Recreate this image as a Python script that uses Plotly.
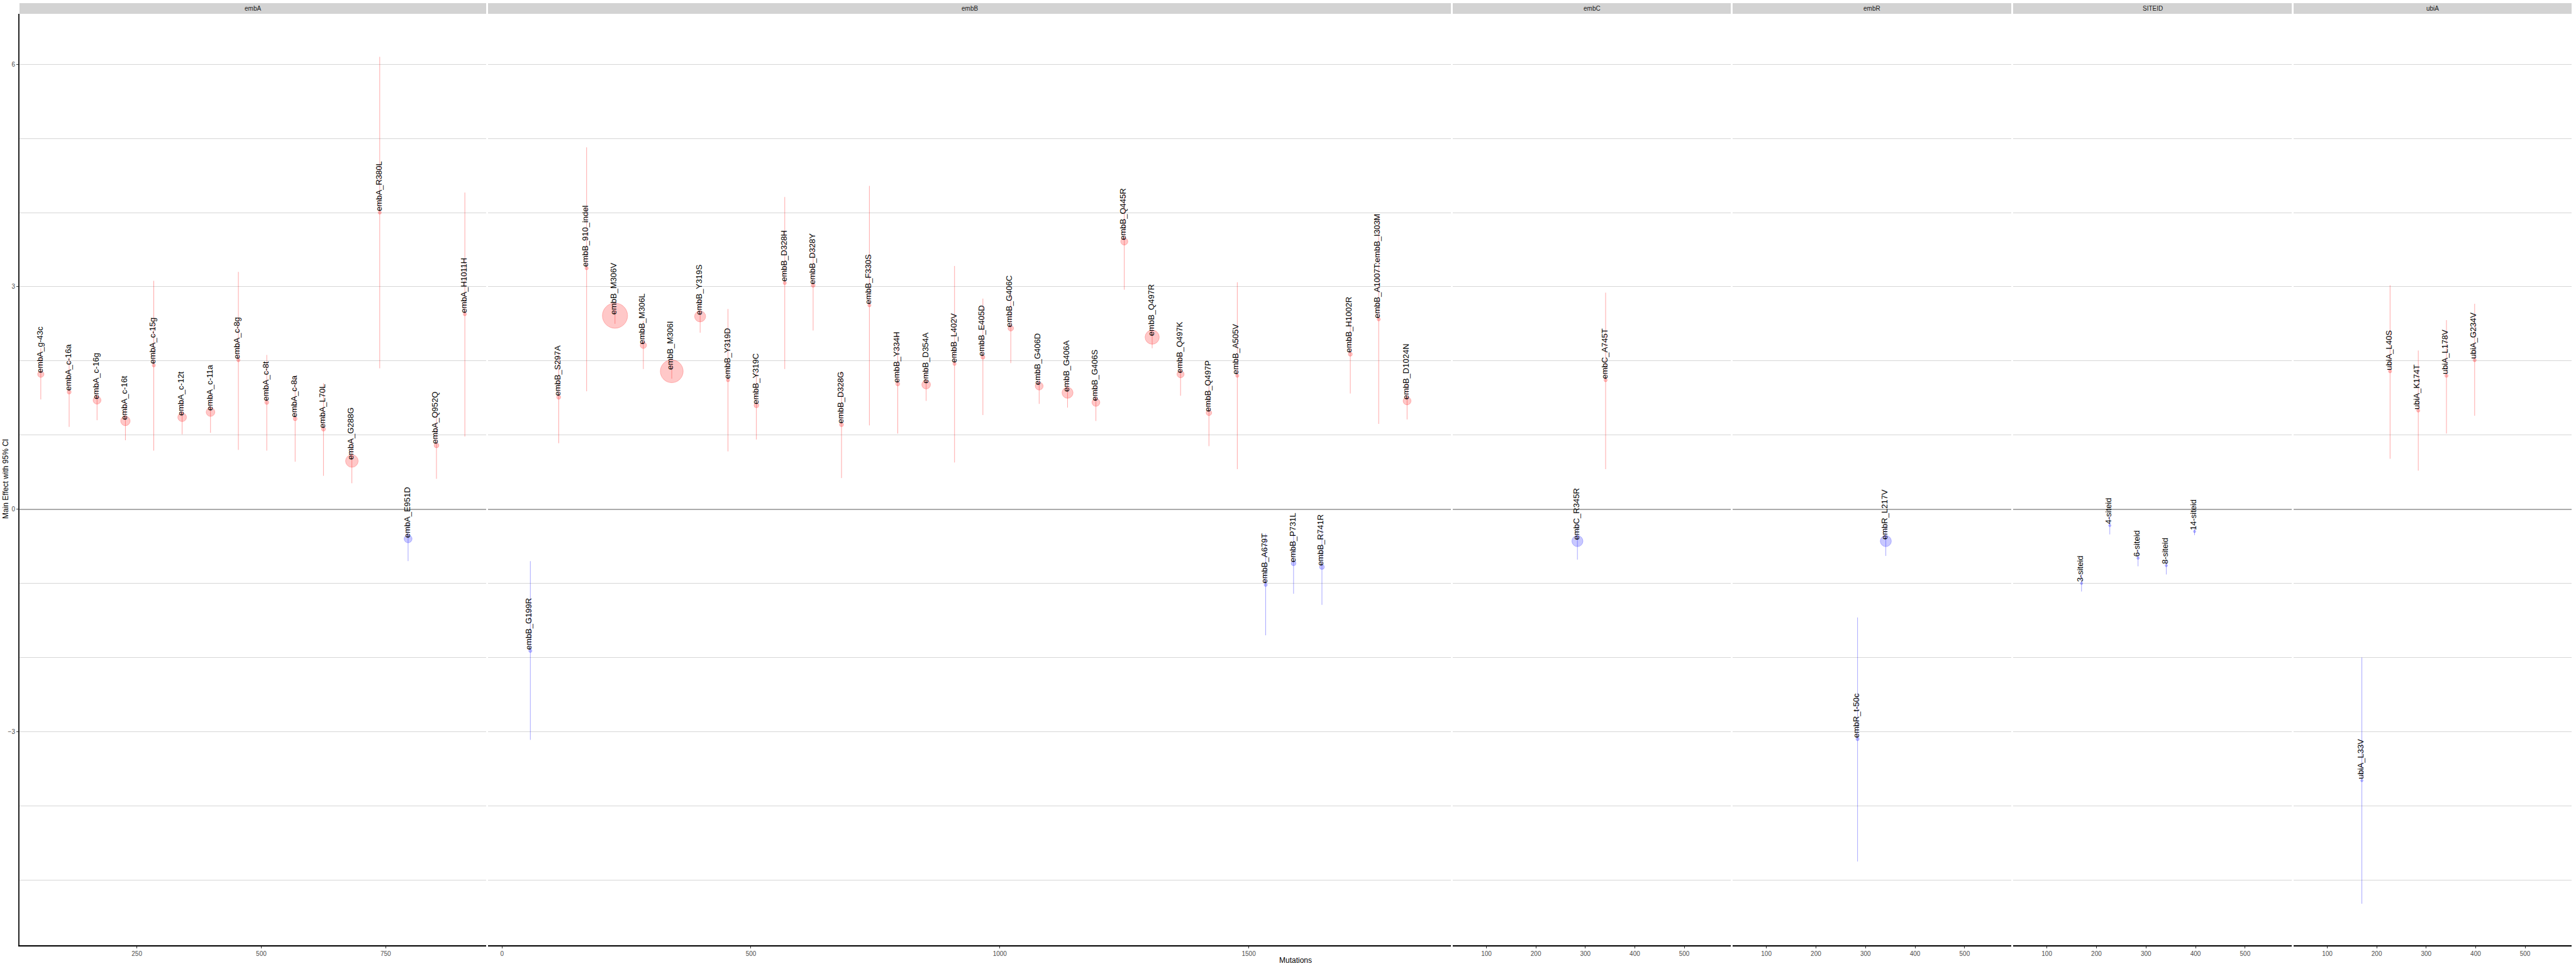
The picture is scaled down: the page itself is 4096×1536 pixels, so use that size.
import plotly.graph_objects as go

W, H = 4096, 1536

# ---------------- data ----------------
genes = ["embA", "embB", "embC", "embR", "SITEID", "ubiA"]

embA_lab = ["embA_g-43c", "embA_c-16a", "embA_c-16g", "embA_c-16t", "embA_c-15g", "embA_c-12t",
            "embA_c-11a", "embA_c-8g", "embA_c-8t", "embA_c-8a", "embA_L70L", "embA_G288G",
            "embA_R380L", "embA_E951D", "embA_Q952Q", "embA_H1011H"]
embA_x = [57, 114, 170, 227, 284, 341, 398, 454, 511, 568, 625, 682, 738, 795, 852, 909]
embA_y = [1.82, 1.58, 1.47, 1.19, 1.94, 1.24, 1.31, 2.01, 1.44, 1.22, 1.08, 0.65, 4.00, -0.40, 0.86, 2.63]
embA_lo = [1.48, 1.11, 1.20, 0.93, 0.79, 1.01, 1.03, 0.80, 0.79, 0.64, 0.45, 0.35, 1.90, -0.70, 0.41, 0.98]
embA_hi = [2.17, 2.05, 1.74, 1.44, 3.08, 1.47, 1.60, 3.20, 2.08, 1.80, 1.70, 0.95, 6.10, -0.18, 1.30, 4.27]
embA_n = [8, 5, 10, 12, 4, 11, 11, 4, 5, 5, 5, 16, 4, 10, 6, 4]

embB_lab = ["embB_G199R", "embB_S297A", "embB_910_indel", "embB_M306V", "embB_M306L", "embB_M306I",
            "embB_Y319S", "embB_Y319D", "embB_Y319C", "embB_D328H", "embB_D328Y", "embB_D328G",
            "embB_F330S", "embB_Y334H", "embB_D354A", "embB_L402V", "embB_E405D", "embB_G406C",
            "embB_G406D", "embB_G406A", "embB_G406S", "embB_Q445R", "embB_Q497R", "embB_Q497K",
            "embB_Q497P", "embB_A505V", "embB_A679T", "embB_P731L", "embB_R741R", "embB_H1002R",
            "embB_A1007T:embB_I303M", "embB_D1024N"]
embB_x = [57, 114, 170, 227, 284, 341, 398, 454, 511, 568, 625, 682, 738, 795, 852, 909,
          966, 1022, 1079, 1136, 1193, 1250, 1306, 1363, 1420, 1477, 1534, 1590, 1647, 1704, 1761, 1818]
embB_y = [-1.91, 1.51, 3.25, 2.61, 2.21, 1.86, 2.60, 1.74, 1.40, 3.05, 3.02, 1.14, 2.75, 1.69, 1.68, 1.96,
          2.05, 2.44, 1.66, 1.57, 1.44, 3.61, 2.32, 1.82, 1.30, 1.80, -1.02, -0.73, -0.78, 2.09, 2.56, 1.46]
embB_lo = [-3.11, 0.89, 1.59, 2.50, 1.89, 1.76, 2.38, 0.78, 0.94, 1.89, 2.41, 0.42, 1.13, 1.02, 1.46, 0.63,
           1.27, 1.97, 1.42, 1.37, 1.19, 2.96, 2.17, 1.53, 0.85, 0.54, -1.70, -1.14, -1.29, 1.56, 1.15, 1.21]
embB_hi = [-0.70, 2.12, 4.88, 2.72, 2.54, 1.97, 2.82, 2.70, 1.86, 4.21, 3.61, 1.86, 4.36, 2.36, 1.90, 3.28,
           2.84, 2.91, 1.90, 1.77, 1.69, 4.26, 2.47, 2.11, 1.74, 3.06, -0.33, -0.31, -0.26, 2.62, 3.97, 1.70]
embB_n = [4, 5, 4, 32, 8, 29, 14, 4, 6, 4, 5, 5, 4, 5, 11, 4,
          5, 7, 10, 14, 10, 9, 18, 9, 7, 4, 4, 6, 6, 5, 4, 10]

embC_lab = ["embC_R345R", "embC_A745T"]
embC_x = [284, 341]
embC_y = [-0.43, 1.74]
embC_lo = [-0.68, 0.54]
embC_hi = [-0.17, 2.92]
embC_n = [14, 4]

embR_lab = ["embR_t-50c", "embR_L217V"]
embR_x = [284, 341]
embR_y = [-3.10, -0.43]
embR_lo = [-4.75, -0.63]
embR_hi = [-1.46, -0.22]
embR_n = [4, 14]

site_lab = ["3-siteid", "4-siteid", "6-siteid", "8-siteid", "14-siteid"]
site_x = [170, 227, 284, 341, 398]
site_y = [-1.00, -0.22, -0.66, -0.76, -0.30]
site_lo = [-1.11, -0.34, -0.77, -0.88, -0.35]
site_hi = [-0.88, -0.09, -0.55, -0.69, -0.25]
site_n = [3, 3, 3, 3, 3]

ubiA_lab = ["ubiA_L33V", "ubiA_L40S", "ubiA_K174T", "ubiA_L178V", "ubiA_G234V"]
ubiA_x = [170, 227, 284, 341, 398]
ubiA_y = [-3.66, 1.86, 1.33, 1.80, 2.01]
ubiA_lo = [-5.32, 0.68, 0.52, 1.02, 1.26]
ubiA_hi = [-2.00, 3.02, 2.14, 2.55, 2.77]
ubiA_n = [3, 4, 4, 4, 4]

y_ticks = [-3, 0, 3, 6]
x_ticks = [[250, 500, 750], [0, 500, 1000, 1500], [100, 200, 300, 400, 500],
           [100, 200, 300, 400, 500], [100, 200, 300, 400, 500], [100, 200, 300, 400, 500]]

panels = [
    (embA_lab, embA_x, embA_y, embA_lo, embA_hi, embA_n),
    (embB_lab, embB_x, embB_y, embB_lo, embB_hi, embB_n),
    (embC_lab, embC_x, embC_y, embC_lo, embC_hi, embC_n),
    (embR_lab, embR_x, embR_y, embR_lo, embR_hi, embR_n),
    (site_lab, site_x, site_y, site_lo, site_hi, site_n),
    (ubiA_lab, ubiA_x, ubiA_y, ubiA_lo, ubiA_hi, ubiA_n),
]

# ---------------- layout geometry ----------------
px_dom = [(31, 773), (776, 2307), (2310, 2752), (2755, 3198), (3201, 3644), (3647, 4089)]
x_ranges = [(14.2, 951.8), (-28, 1906), (32, 594), (32, 594), (32, 594), (32, 594)]
top_px, bot_px = 22, 1503
strip_top = 5
y_dom = [(H - bot_px) / H, (H - top_px) / H]
y_range = [-5.88, 6.68]
SIZE_SCALE = 1.25

FONT = "Liberation Sans, Arial, sans-serif"
RED_F, RED_L, RED_E = "rgba(255,0,0,0.30)", "rgba(255,40,40,0.45)", "rgba(255,0,0,0.35)"
BLU_F, BLU_L, BLU_E = "rgba(0,0,255,0.30)", "rgba(40,40,255,0.45)", "rgba(0,0,255,0.35)"

fig = go.Figure()
annotations = []
shapes = []

for k, (lab, xs, ys, lo, hi, n) in enumerate(panels):
    sfx = "" if k == 0 else str(k + 1)
    xref, yref = "x" + sfx, "y" + sfx
    for sign in (1, -1):
        idx = [i for i in range(len(ys)) if (ys[i] >= 0) == (sign == 1)]
        if not idx:
            continue
        f, l, e = (RED_F, RED_L, RED_E) if sign == 1 else (BLU_F, BLU_L, BLU_E)
        fig.add_trace(go.Scatter(
            x=[xs[i] for i in idx], y=[ys[i] for i in idx],
            mode="markers", xaxis=xref, yaxis=yref, showlegend=False,
            marker=dict(size=[n[i] * SIZE_SCALE for i in idx], color=f, line=dict(color=l, width=1)),
            error_y=dict(type="data", symmetric=False,
                         array=[hi[i] - ys[i] for i in idx],
                         arrayminus=[ys[i] - lo[i] for i in idx],
                         color=e, thickness=1, width=0),
        ))
    for i in range(len(ys)):
        annotations.append(dict(
            x=xs[i], y=ys[i], xref=xref, yref=yref, text=lab[i], showarrow=False,
            textangle=-90, xanchor="center", yanchor="bottom", xshift=-2,
            font=dict(family=FONT, size=13, color="black")))

    x0, x1 = px_dom[k]
    dom = [x0 / W, x1 / W]
    fig.layout["xaxis" + sfx] = dict(
        domain=dom, range=list(x_ranges[k]), anchor=yref,
        tickmode="array", tickvals=x_ticks[k], showgrid=False, zeroline=False,
        showline=True, linecolor="black", linewidth=2,
        ticks="outside", ticklen=3, tickcolor="#333333",
        tickfont=dict(family=FONT, size=10, color="#4D4D4D"))
    fig.layout["yaxis" + sfx] = dict(
        domain=y_dom, range=y_range, anchor=xref,
        tickmode="array", tickvals=y_ticks, showticklabels=(k == 0),
        ticks="outside" if k == 0 else "", ticklen=3, tickcolor="#333333",
        showgrid=True, gridcolor="#D6D6D6", gridwidth=1,
        minor=dict(tickmode="linear", tick0=0, dtick=1, showgrid=True,
                   gridcolor="#D6D6D6", gridwidth=1, ticks=""),
        zeroline=True, zerolinecolor="#ABABAB", zerolinewidth=2,
        showline=(k == 0), linecolor="#222222", linewidth=2,
        tickfont=dict(family=FONT, size=10, color="#4D4D4D"))

    # strip
    shapes.append(dict(type="rect", xref="paper", yref="paper",
                       x0=x0 / W, x1=x1 / W, y0=(H - top_px) / H, y1=(H - strip_top) / H,
                       fillcolor="#D3D3D3", line=dict(width=0), layer="below"))
    annotations.append(dict(x=(x0 + x1) / 2 / W, y=(H - (top_px + strip_top) / 2) / H,
                            xref="paper", yref="paper", text=genes[k], showarrow=False,
                            xanchor="center", yanchor="middle",
                            font=dict(family=FONT, size=10, color="#1A1A1A")))

annotations.append(dict(x=2060 / W, y=(H - 1527) / H, xref="paper", yref="paper",
                        text="Mutations", showarrow=False, xanchor="center", yanchor="middle",
                        font=dict(family=FONT, size=12, color="black")))
annotations.append(dict(x=9 / W, y=(H - 762) / H, xref="paper", yref="paper",
                        text="Main Effect with 95% CI", showarrow=False, textangle=-90,
                        xanchor="center", yanchor="middle",
                        font=dict(family=FONT, size=12, color="black")))

fig.update_layout(width=W, height=H, margin=dict(l=0, r=0, t=0, b=0),
                  paper_bgcolor="white", plot_bgcolor="white",
                  annotations=annotations, shapes=shapes, showlegend=False)

fig.write_html("out.html")
